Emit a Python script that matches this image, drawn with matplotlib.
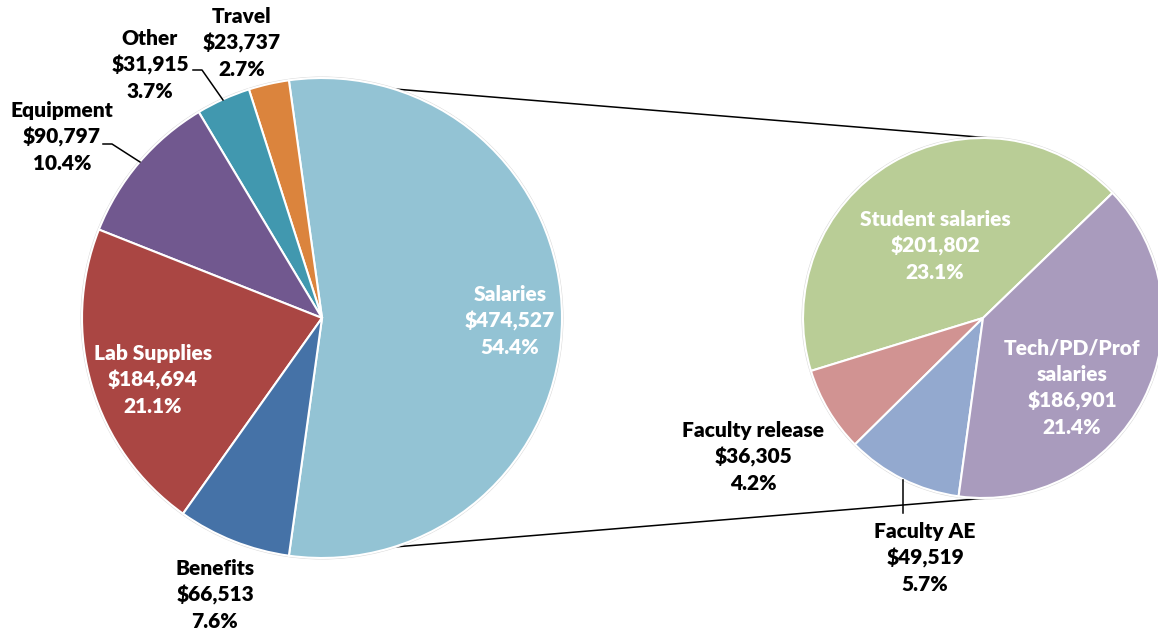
import matplotlib
matplotlib.use("Agg")
import matplotlib.pyplot as plt
import numpy as np

# main pie (Salaries is the split slice)
main_names = ["Salaries", "Travel", "Other", "Equipment", "Lab Supplies", "Benefits"]
main_values = [474527, 23737, 31915, 90797, 184694, 66513]
main_pcts = ["54.4%", "2.7%", "3.7%", "10.4%", "21.1%", "7.6%"]
main_colors = ["#93C3D4", "#DB843D", "#4198AF", "#71588F", "#AA4643", "#4572A7"]

# secondary pie: breakdown of salaries
sub_names = ["Student salaries", "Faculty release", "Faculty AE", "Tech/PD/Prof\nsalaries"]
sub_values = [201802, 36305, 49519, 186901]
sub_pcts = ["23.1%", "4.2%", "5.7%", "21.4%"]
sub_colors = ["#B9CD96", "#D19392", "#93A9CF", "#A99BBD"]

W, H = 1158, 634
plt.rcParams["font.family"] = ["Lato", "DejaVu Sans"]

fig = plt.figure(figsize=(W / 100, H / 100), dpi=100)
ax = fig.add_axes([0, 0, 1, 1])

c_main = (322, H - 318)
r_main = 240
c_sub = (983, H - 318)
r_sub = 180

total = sum(main_values)
start = -main_values[0] / total * 360 / 2
wedges, _ = ax.pie(main_values, colors=main_colors, center=c_main, radius=r_main,
                   startangle=start, counterclock=True, frame=True,
                   wedgeprops=dict(edgecolor="white", linewidth=1.5))
wedges2, _ = ax.pie(sub_values, colors=sub_colors, center=c_sub, radius=r_sub,
                    startangle=44, counterclock=True, frame=True,
                    wedgeprops=dict(edgecolor="white", linewidth=1.5))
ax.set_xlim(0, W)
ax.set_ylim(0, H)
ax.set_aspect("equal")
ax.axis("off")

for c, r in ((c_main, r_main), (c_sub, r_sub)):
    ax.add_patch(plt.Circle(c, r + 0.8, fill=False, edgecolor="#D8D8D8", linewidth=1.0, zorder=0.5))

# connector lines from split slice to secondary pie
sal = wedges[0]
for th_main, th_sub in ((sal.theta2, 85), (sal.theta1, -88)):
    p0 = (c_main[0] + r_main * np.cos(np.radians(th_main)), c_main[1] + r_main * np.sin(np.radians(th_main)))
    p1 = (c_sub[0] + r_sub * np.cos(np.radians(th_sub)), c_sub[1] + r_sub * np.sin(np.radians(th_sub)))
    ax.plot([p0[0], p1[0]], [p0[1], p1[1]], color="black", lw=1.1, zorder=0.4)


def label(x, y, name, value, pct, color):
    txt = f"{name}\n${value:,}\n{pct}"
    ax.text(x, H - y, txt, ha="center", va="center", color=color, fontsize=15,
            fontweight="heavy", linespacing=1.45)


main_pos = [(510, 321, "white"), (242, 43, "black"), (150, 65, "black"),
            (62, 137, "black"), (153, 380, "white"), (215, 595, "black")]
for (x, y, col), n, v, p in zip(main_pos, main_names, main_values, main_pcts):
    label(x, y, n, v, p, col)

sub_pos = [(935, 246, "white"), (753, 457, "black"), (925, 558, "black"), (1072, 388, "white")]
for (x, y, col), n, v, p in zip(sub_pos, sub_names, sub_values, sub_pcts):
    label(x, y, n, v, p, col)


# leader lines
def leader(pts):
    xs = [p[0] for p in pts]
    ys = [H - p[1] for p in pts]
    ax.plot(xs, ys, color="black", lw=1.1)


leader([(103, 144), (112, 144), (140, 162)])
leader([(193, 70), (202, 70), (223, 100)])
leader([(903, 480), (903, 513)])

fig.savefig("out.png", dpi=100)
